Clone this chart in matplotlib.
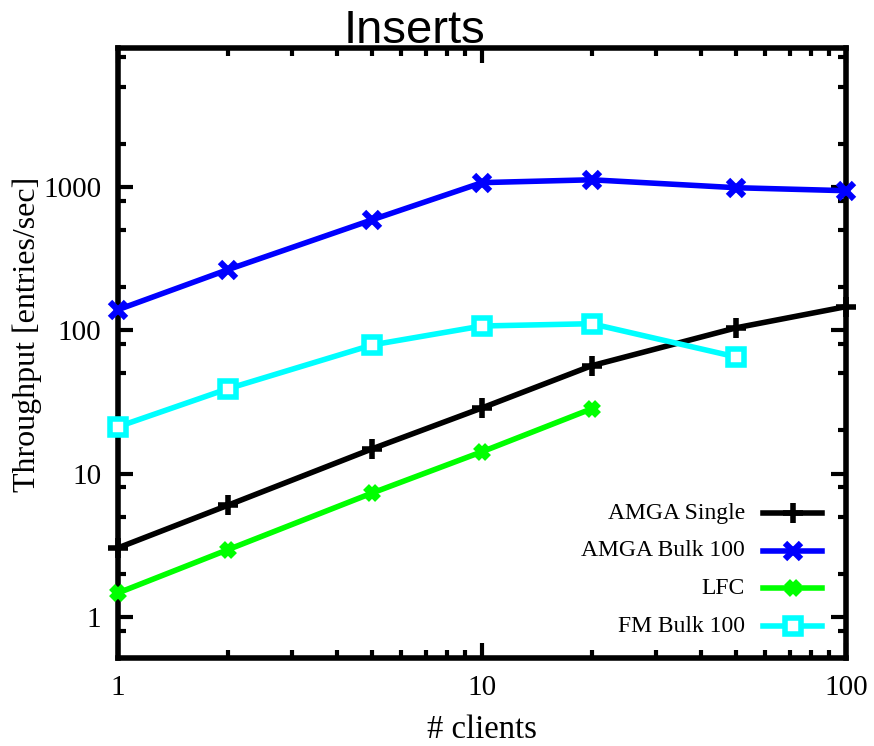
import matplotlib
matplotlib.use("Agg")
import matplotlib.pyplot as plt
from matplotlib.lines import Line2D
from matplotlib.ticker import LogLocator, FixedLocator, FixedFormatter, NullFormatter

clients = [1, 2, 5, 10, 20, 50, 100]
amga_single = [3.03, 6.0, 14.9, 28.7, 56.5, 104, 146]
amga_bulk = [139, 264, 590, 1070, 1120, 986, 940]
lfc_clients = [1, 2, 5, 10, 20]
lfc = [1.47, 2.94, 7.33, 14.2, 28.3]
fm_clients = [1, 2, 5, 10, 20, 50]
fm_bulk = [21.2, 39, 79, 107, 111, 65]

SERIF = ["Liberation Serif", "DejaVu Serif"]
LW = 4

fig = plt.figure(figsize=(8.74, 7.46), dpi=100)
ax = fig.add_axes([118 / 874, 88 / 746, (846 - 118) / 874, (658 - 48) / 746])

styles = [
    dict(color="black", marker="+", ms=14, mew=4),
    dict(color="#0000ff", marker="x", ms=11, mew=4.5),
    dict(color="#00ff00", marker="x", ms=9, mew=6),
    dict(color="#00ffff", marker="s", ms=11, mew=4, mfc="white"),
]
names = ["AMGA Single", "AMGA Bulk 100", "LFC", "FM Bulk 100"]
series = [(clients, amga_single), (clients, amga_bulk),
          (lfc_clients, lfc), (fm_clients, fm_bulk)]

for (xs, ys), st, name in zip(series, styles, names):
    ax.plot(xs, ys, lw=LW, label=name, clip_on=False, zorder=3, **st)

ax.set_xscale("log")
ax.set_yscale("log")
ax.set_xlim(1, 100)
ax.set_ylim(0.517, 9300)

ax.xaxis.set_major_locator(FixedLocator([1, 10, 100]))
ax.xaxis.set_major_formatter(FixedFormatter(["1", "10", "100"]))
ax.xaxis.set_minor_locator(LogLocator(subs=range(2, 10)))
ax.xaxis.set_minor_formatter(NullFormatter())
ax.yaxis.set_major_locator(FixedLocator([1, 10, 100, 1000]))
ax.yaxis.set_major_formatter(FixedFormatter(["1", "10", "100", "1000"]))
ax.yaxis.set_minor_locator(LogLocator(subs=[2, 5, 8]))
ax.yaxis.set_minor_formatter(NullFormatter())

ax.tick_params(which="both", direction="in", top=True, right=True, width=3)
ax.tick_params(which="major", length=11, pad=12)
ax.tick_params(which="minor", length=6)
for lab in ax.get_xticklabels() + ax.get_yticklabels():
    lab.set_family(SERIF)
    lab.set_fontsize(21)
for sp in ax.spines.values():
    sp.set_linewidth(4)

ax.set_xlabel("# clients", family=SERIF, fontsize=23.5, labelpad=10)
ax.set_ylabel("Throughput [entries/sec]", family=SERIF, fontsize=23)
ax.yaxis.set_label_coords(-0.105, 0.531)
fig.text(415 / 874, 703 / 746, "Inserts", ha="center", va="baseline",
         family=["Liberation Sans", "DejaVu Sans"], fontsize=34)

# legend drawn by hand: labels right-aligned, line sample to their right
for i, (st, name) in enumerate(zip(styles, names)):
    y = 1 - (513 + i * 37.7) / 746
    fig.text(745 / 874, y, name, ha="right", va="center", family=SERIF, fontsize=17)
    fig.add_artist(Line2D([763 / 874, 793 / 874, 822 / 874], [y, y, y], lw=LW,
                          markevery=[1], transform=fig.transFigure, **st))

fig.savefig("out.png", dpi=100)
